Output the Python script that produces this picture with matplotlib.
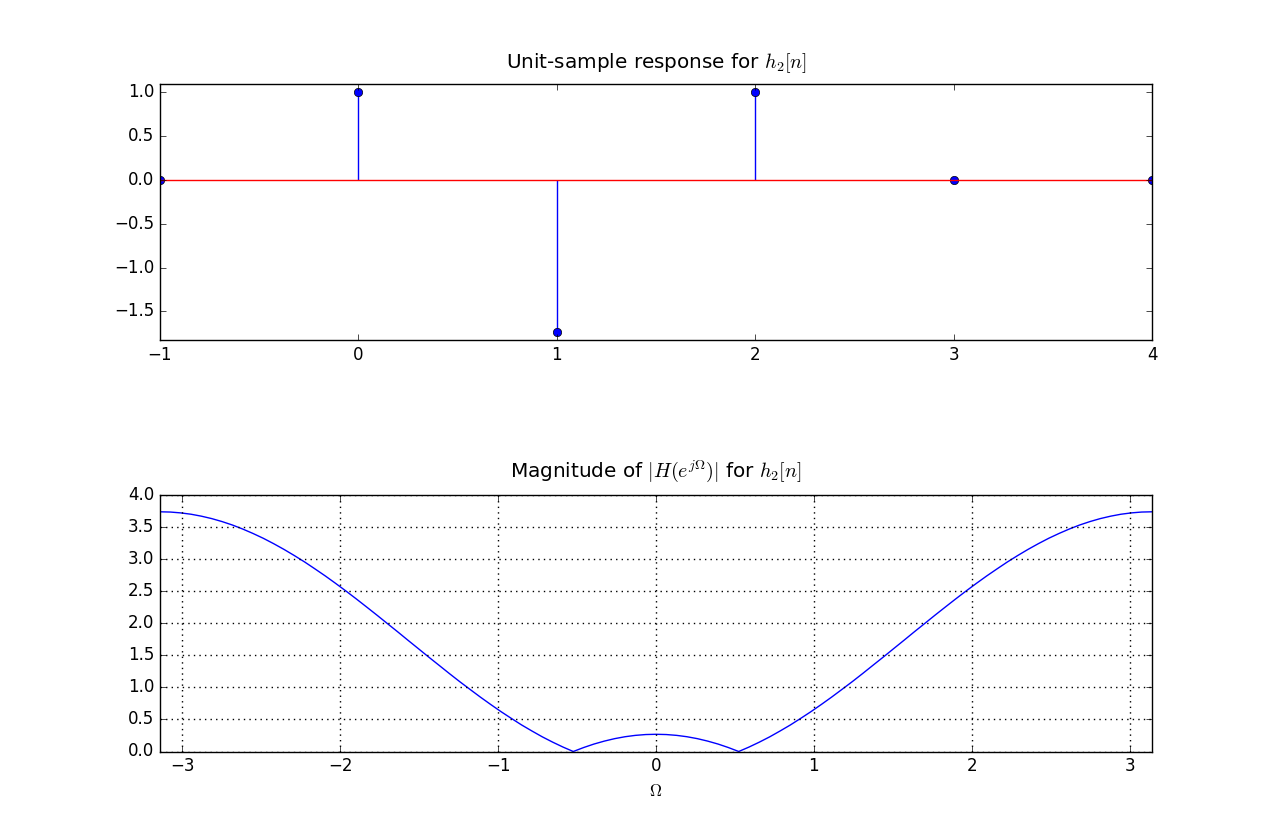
import matplotlib
matplotlib.use("Agg")
import matplotlib.pyplot as plt

plt.style.use("classic")
plt.rcParams["mathtext.fontset"] = "cm"

# Unit-sample response h2[n]
n_vals = [-1, 0, 1, 2, 3, 4]
h2_vals = [0.0, 1.0, -1.732, 1.0, 0.0, 0.0]

# Magnitude |H(e^{jOmega})|
omega_vals = [
    -3.142, -3.076, -3.011, -2.945, -2.880, -2.814, -2.749, -2.683, -2.618,
    -2.553, -2.487, -2.422, -2.356, -2.291, -2.225, -2.160, -2.094, -2.029,
    -1.963, -1.898, -1.833, -1.767, -1.702, -1.636, -1.571, -1.505, -1.440,
    -1.374, -1.309, -1.244, -1.178, -1.113, -1.047, -0.982, -0.916, -0.851,
    -0.785, -0.720, -0.654, -0.589, -0.524, -0.458, -0.393, -0.327, -0.262,
    -0.196, -0.131, -0.065, 0.0,
    0.065, 0.131, 0.196, 0.262, 0.327, 0.393, 0.458, 0.524, 0.589,
    0.654, 0.720, 0.785, 0.851, 0.916, 0.982, 1.047, 1.113, 1.178,
    1.244, 1.309, 1.374, 1.440, 1.505, 1.571, 1.636, 1.702, 1.767,
    1.833, 1.898, 1.963, 2.029, 2.094, 2.160, 2.225, 2.291, 2.356,
    2.422, 2.487, 2.553, 2.618, 2.683, 2.749, 2.814, 2.880, 2.945,
    3.011, 3.076, 3.142]
mag_vals = [
    3.732, 3.728, 3.715, 3.694, 3.664, 3.626, 3.580, 3.526, 3.464,
    3.395, 3.319, 3.236, 3.146, 3.051, 2.950, 2.843, 2.732, 2.617,
    2.497, 2.375, 2.250, 2.122, 1.993, 1.863, 1.732, 1.601, 1.471,
    1.342, 1.214, 1.089, 0.967, 0.848, 0.732, 0.621, 0.515, 0.413,
    0.318, 0.228, 0.145, 0.069, 0.000, 0.062, 0.116, 0.162, 0.200,
    0.230, 0.251, 0.264, 0.268,
    0.264, 0.251, 0.230, 0.200, 0.162, 0.116, 0.062, 0.000, 0.069,
    0.145, 0.228, 0.318, 0.413, 0.515, 0.621, 0.732, 0.848, 0.967,
    1.089, 1.214, 1.342, 1.471, 1.601, 1.732, 1.863, 1.993, 2.122,
    2.250, 2.375, 2.497, 2.617, 2.732, 2.843, 2.950, 3.051, 3.146,
    3.236, 3.319, 3.395, 3.464, 3.526, 3.580, 3.626, 3.664, 3.694,
    3.715, 3.728, 3.732]

fig = plt.figure(figsize=(12.8, 8.35), dpi=100, facecolor="white")
fig.subplots_adjust(left=0.125, right=0.9, bottom=0.1, top=0.9, hspace=0.6)

ax1 = fig.add_subplot(2, 1, 1)
ax1.stem(n_vals, h2_vals, linefmt="b-", markerfmt="bo", basefmt="r-")
ax1.set_xlim(-1, 4)
ax1.set_ylim(-1.832, 1.1)
ax1.set_title(r"Unit-sample response for $h_2[n]$", y=1.032)

ax2 = fig.add_subplot(2, 1, 2)
ax2.plot(omega_vals, mag_vals, "b-")
ax2.set_xlim(-3.1416, 3.1416)
ax2.set_ylim(0, 4)
ax2.grid(True, color="k", linestyle=(0, (1, 3)), linewidth=1.0)
ax2.set_xlabel(r"$\Omega$")
ax2.set_title(r"Magnitude of $|H(e^{j\Omega})|$ for $h_2[n]$", y=1.04)

fig.savefig("out.png", dpi=100, facecolor="white")
